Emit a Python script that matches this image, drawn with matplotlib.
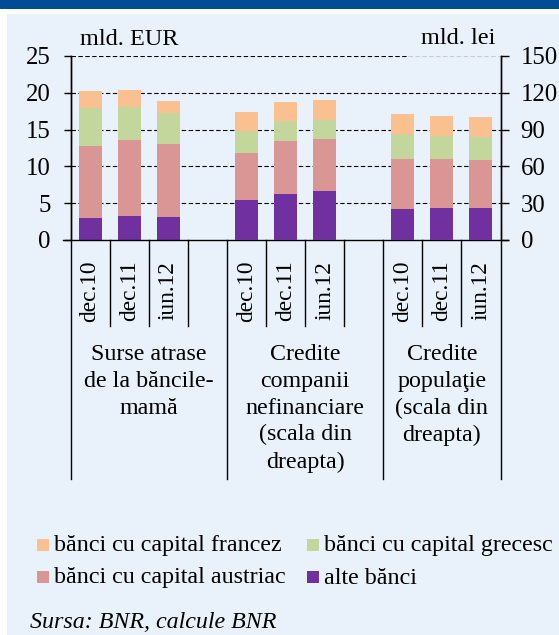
import matplotlib
matplotlib.use("Agg")
import matplotlib.pyplot as plt
from matplotlib.patches import Rectangle
import numpy as np

plt.rcParams['font.family'] = ['Liberation Serif', 'DejaVu Serif']

# ---------------- data ----------------
periods = ["dec.10", "dec.11", "iun.12"]
groups = ["Surse atrase\nde la băncile-\nmamă",
          "Credite\ncompanii\nnefinanciare\n(scala din\ndreapta)",
          "Credite\npopulaţie\n(scala din\ndreapta)"]
series = ["alte bănci", "bănci cu capital austriac",
          "bănci cu capital grecesc", "bănci cu capital francez"]
colors = ["#7030A0", "#D99694", "#C3D69B", "#FAC090"]

# segment values (stack order: alte, austriac, grecesc, francez)
# group 1: mld. EUR (left axis)
surse_alte = [3.0, 3.2, 3.1]
surse_austriac = [9.8, 10.4, 9.9]
surse_grecesc = [5.2, 4.5, 4.3]
surse_francez = [2.3, 2.3, 1.6]
# group 2: mld. lei (right axis)
companii_alte = [32.3, 37.2, 39.7]
companii_austriac = [38.6, 43.8, 42.4]
companii_grecesc = [18.2, 15.7, 15.5]
companii_francez = [15.5, 15.8, 16.3]
# group 3: mld. lei (right axis)
populatie_alte = [25.5, 26.4, 25.8]
populatie_austriac = [40.8, 39.9, 39.7]
populatie_grecesc = [19.8, 18.8, 18.5]
populatie_francez = [16.3, 16.0, 16.3]

left_ticks = [0, 5, 10, 15, 20, 25]
right_ticks = [0, 30, 60, 90, 120, 150]

# ---------------- figure ----------------
W, H = 559, 635
fig = plt.figure(figsize=(W / 100, H / 100), dpi=100)
fig.patch.set_facecolor("white")

def fx(px):
    return px / W

def fy(py):
    return 1 - py / H

# background panel and top bar
fig.patches.append(Rectangle((fx(7), 0), 1 - fx(7), fy(14), transform=fig.transFigure,
                             facecolor="#E9F1FB", edgecolor="none", zorder=-10))
fig.patches.append(Rectangle((0, fy(9)), 1, 1 - fy(9), transform=fig.transFigure,
                             facecolor="#004C97", edgecolor="none", zorder=-10))

ax_l, ax_r, ax_t, ax_b = 70.5, 500.5, 56, 240
ax = fig.add_axes([fx(ax_l), fy(ax_b), fx(ax_r) - fx(ax_l), fy(ax_t) - fy(ax_b)])
ax2 = ax.twinx()
for a in (ax, ax2):
    a.set_facecolor("none")
    a.spines["top"].set_visible(False)
    a.spines["bottom"].set_visible(False)
    a.spines["left"].set_linewidth(1.0)
    a.spines["right"].set_linewidth(1.0)

nslots = 11
ax.set_xlim(0, nslots)
ax.set_ylim(0, 25)
ax2.set_ylim(0, 150)

slot_px = (ax_r - ax_l) / nslots
bw = 0.59

def stack(axis, xs, segs):
    bottom = np.zeros(len(xs))
    for vals, c in zip(segs, colors):
        axis.bar(xs, vals, width=bw, bottom=bottom, color=c, edgecolor="none", zorder=3)
        bottom = bottom + np.array(vals)

x1 = np.arange(3) + 0.5
x2 = np.arange(3) + 4.5
x3 = np.arange(3) + 8.5
stack(ax, x1, [surse_alte, surse_austriac, surse_grecesc, surse_francez])
stack(ax2, x2, [companii_alte, companii_austriac, companii_grecesc, companii_francez])
stack(ax2, x3, [populatie_alte, populatie_austriac, populatie_grecesc, populatie_francez])

# gridlines
dash = (0, (4, 2.2))
ax.hlines([5, 10, 15, 20], 0, nslots, colors="black", linewidth=0.8, linestyle=dash, zorder=1)
split = (408 - ax_l) / slot_px
ax.hlines([25], 0, split, colors="black", linewidth=0.8, linestyle=dash, zorder=1)
ax.hlines([25], split, nslots, colors="#C8CCD2", linewidth=0.8, linestyle=dash, zorder=1)

# y ticks
tick_len = 7.5 * 72 / 100
ax.set_yticks(left_ticks)
ax.set_yticklabels([str(t) for t in left_ticks])
ax2.set_yticks(right_ticks)
ax2.set_yticklabels([str(t) for t in right_ticks])
ax.tick_params(axis="y", direction="out", length=tick_len, width=1.0, pad=9.0, labelsize=17.8)
ax2.tick_params(axis="y", direction="out", length=tick_len, width=1.0, pad=9.0, labelsize=17.8)

# x tick labels (periods)
xcenters = np.concatenate([x1, x2, x3])
ax.set_xticks(xcenters)
ax.set_xticklabels(periods * 3, rotation=90, fontsize=16.8)
ax.tick_params(axis="x", length=0, pad=15.0)
ax2.tick_params(axis="x", length=0)

# baseline and category separators
trans = ax.get_xaxis_transform()
ext = 7.5 / slot_px
ax.plot([-ext, nslots + ext], [0, 0], transform=trans, color="black", lw=1.0,
        clip_on=False, zorder=5)
short_bottom = (ax_b - 326) / (ax_b - ax_t)
long_bottom = (ax_b - 479) / (ax_b - ax_t)
for xb in [1, 2, 3, 5, 6, 7, 9, 10]:
    ax.plot([xb, xb], [0, short_bottom], transform=trans, color="black", lw=1.0, clip_on=False)
for xb in [0, 4, 8, 11]:
    ax.plot([xb, xb], [0, long_bottom], transform=trans, color="black", lw=1.0, clip_on=False)

# group labels
gcenters = [2, 6, 9.5]
gy = (ax_b - 344) / (ax_b - ax_t)
for gx, g in zip(gcenters, groups):
    ax.text(gx, gy, g, transform=trans, ha="center", va="top", fontsize=17.3,
            linespacing=1.36, multialignment="center")

# unit labels
fig.text(fx(80), fy(45), "mld. EUR", ha="left", va="baseline", fontsize=17.5)
fig.text(fx(495), fy(44.5), "mld. lei", ha="right", va="baseline", fontsize=17.5)

# legend (manual)
leg_items = [(37, 539, colors[3], series[3]), (307, 539, colors[2], series[2]),
             (37, 571, colors[1], series[1]), (307, 571, colors[0], series[0])]
for lx, ly, c, lab in leg_items:
    fig.patches.append(Rectangle((fx(lx), fy(ly + 12)), fx(12), 12 / H,
                                 transform=fig.transFigure, facecolor=c, edgecolor="none"))
    fig.text(fx(lx + 17), fy(ly + 12.5), lab, ha="left", va="baseline", fontsize=17.3)

fig.text(fx(30), fy(628), "Sursa: BNR, calcule BNR", ha="left", va="baseline",
         fontsize=17.3, style="italic")

fig.savefig("out.png", dpi=100)
